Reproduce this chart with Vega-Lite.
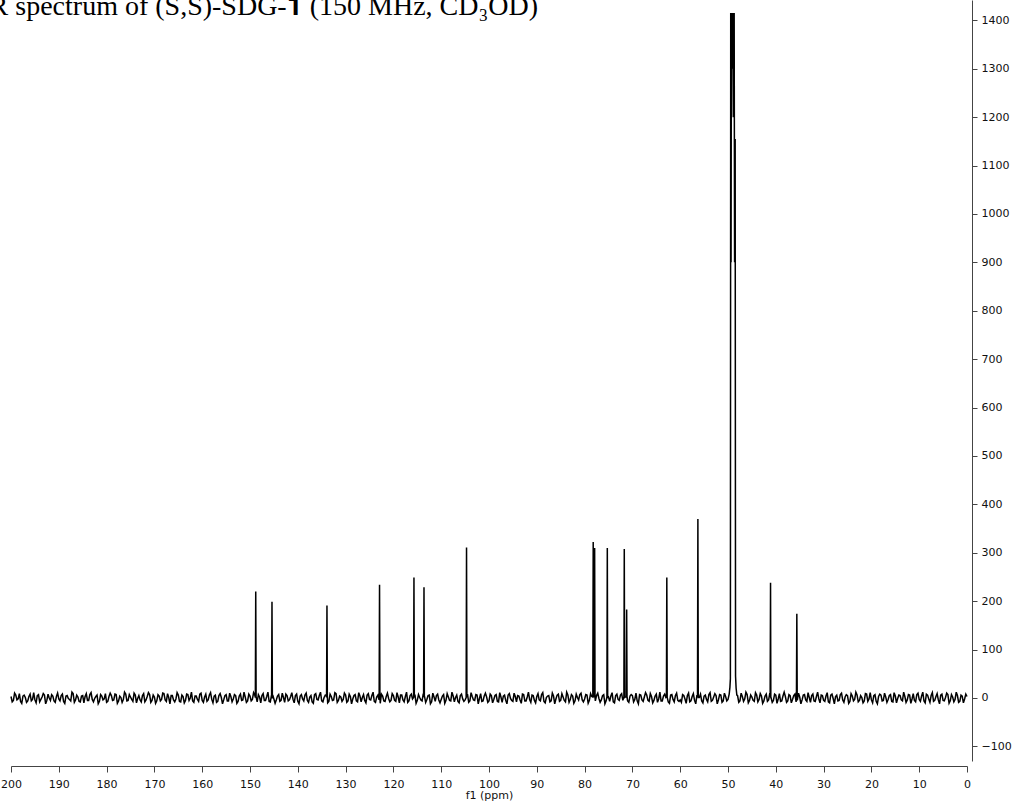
{
  "$schema": "https://vega.github.io/schema/vega-lite/v6.json",
  "width": 956,
  "height": 761,
  "autosize": {"type": "none"},
  "padding": {"left": 11, "top": 0, "right": 47, "bottom": 49},
  "background": "white",
  "datasets": {
    "spectrum": [
      {"ppm": 200, "v": 3}, {"ppm": 199.75, "v": -8}, {"ppm": 199.5, "v": -5}, {"ppm": 199.25, "v": 10}, {"ppm": 199, "v": 6}, {"ppm": 198.75, "v": -4}, {"ppm": 198.5, "v": -2}, {"ppm": 198.25, "v": 9},
      {"ppm": 198, "v": -7}, {"ppm": 197.75, "v": -11}, {"ppm": 197.5, "v": 4}, {"ppm": 197.25, "v": 6}, {"ppm": 197, "v": 1}, {"ppm": 196.75, "v": -9}, {"ppm": 196.5, "v": -6}, {"ppm": 196.25, "v": 3},
      {"ppm": 196, "v": 8}, {"ppm": 195.75, "v": -6}, {"ppm": 195.5, "v": -3}, {"ppm": 195.25, "v": 11}, {"ppm": 195, "v": -4}, {"ppm": 194.75, "v": -10}, {"ppm": 194.5, "v": 5}, {"ppm": 194.25, "v": 7},
      {"ppm": 194, "v": -8}, {"ppm": 193.75, "v": -3}, {"ppm": 193.5, "v": 2}, {"ppm": 193.25, "v": 9}, {"ppm": 193, "v": 6}, {"ppm": 192.75, "v": -12}, {"ppm": 192.5, "v": -5}, {"ppm": 192.25, "v": 8},
      {"ppm": 192, "v": 0}, {"ppm": 191.75, "v": -5}, {"ppm": 191.5, "v": 7}, {"ppm": 191.25, "v": 4}, {"ppm": 191, "v": -6}, {"ppm": 190.75, "v": -9}, {"ppm": 190.5, "v": 3}, {"ppm": 190.25, "v": 10},
      {"ppm": 190, "v": -2}, {"ppm": 189.75, "v": -6}, {"ppm": 189.5, "v": 5}, {"ppm": 189.25, "v": 8}, {"ppm": 189, "v": -7}, {"ppm": 188.75, "v": -11}, {"ppm": 188.5, "v": 4}, {"ppm": 188.25, "v": 5},
      {"ppm": 188, "v": -1}, {"ppm": 187.75, "v": -3}, {"ppm": 187.5, "v": -6}, {"ppm": 187.25, "v": 12}, {"ppm": 187, "v": 9}, {"ppm": 186.75, "v": -9}, {"ppm": 186.5, "v": -4}, {"ppm": 186.25, "v": 6},
      {"ppm": 186, "v": 2}, {"ppm": 185.75, "v": -7}, {"ppm": 185.5, "v": -8}, {"ppm": 185.25, "v": 4}, {"ppm": 185, "v": 5}, {"ppm": 184.75, "v": -10}, {"ppm": 184.5, "v": 3}, {"ppm": 184.25, "v": 9},
      {"ppm": 184, "v": -5}, {"ppm": 183.75, "v": -5}, {"ppm": 183.5, "v": 7}, {"ppm": 183.25, "v": 11}, {"ppm": 183, "v": -3}, {"ppm": 182.75, "v": -8}, {"ppm": 182.5, "v": -1}, {"ppm": 182.25, "v": 3},
      {"ppm": 182, "v": 6}, {"ppm": 181.75, "v": -12}, {"ppm": 181.5, "v": -7}, {"ppm": 181.25, "v": 7}, {"ppm": 181, "v": 4}, {"ppm": 180.75, "v": -4}, {"ppm": 180.5, "v": -2}, {"ppm": 180.25, "v": 9},
      {"ppm": 180, "v": -9}, {"ppm": 179.75, "v": -7}, {"ppm": 179.5, "v": 3}, {"ppm": 179.25, "v": 10}, {"ppm": 179, "v": 5}, {"ppm": 178.75, "v": -5}, {"ppm": 178.5, "v": -4}, {"ppm": 178.25, "v": 8},
      {"ppm": 178, "v": 7}, {"ppm": 177.75, "v": -11}, {"ppm": 177.5, "v": -6}, {"ppm": 177.25, "v": 4}, {"ppm": 177, "v": 1}, {"ppm": 176.75, "v": -9}, {"ppm": 176.5, "v": -3}, {"ppm": 176.25, "v": 12},
      {"ppm": 176, "v": 8}, {"ppm": 175.75, "v": -6}, {"ppm": 175.5, "v": -5}, {"ppm": 175.25, "v": 7}, {"ppm": 175, "v": 2}, {"ppm": 174.75, "v": -3}, {"ppm": 174.5, "v": -7}, {"ppm": 174.25, "v": 10},
      {"ppm": 174, "v": 6}, {"ppm": 173.75, "v": -10}, {"ppm": 173.5, "v": -1}, {"ppm": 173.25, "v": 5}, {"ppm": 173, "v": -4}, {"ppm": 172.75, "v": -8}, {"ppm": 172.5, "v": 5}, {"ppm": 172.25, "v": 9},
      {"ppm": 172, "v": -8}, {"ppm": 171.75, "v": -4}, {"ppm": 171.5, "v": 3}, {"ppm": 171.25, "v": 11}, {"ppm": 171, "v": 7}, {"ppm": 170.75, "v": -9}, {"ppm": 170.5, "v": -5}, {"ppm": 170.25, "v": 6},
      {"ppm": 170, "v": 2}, {"ppm": 169.75, "v": -11}, {"ppm": 169.5, "v": -6}, {"ppm": 169.25, "v": 7}, {"ppm": 169, "v": 4}, {"ppm": 168.75, "v": -6}, {"ppm": 168.5, "v": -3}, {"ppm": 168.25, "v": 10},
      {"ppm": 168, "v": 9}, {"ppm": 167.75, "v": -4}, {"ppm": 167.5, "v": -7}, {"ppm": 167.25, "v": 9}, {"ppm": 167, "v": 1}, {"ppm": 166.75, "v": -12}, {"ppm": 166.5, "v": 5}, {"ppm": 166.25, "v": 5},
      {"ppm": 166, "v": -4}, {"ppm": 165.75, "v": -8}, {"ppm": 165.5, "v": -2}, {"ppm": 165.25, "v": 11}, {"ppm": 165, "v": 6}, {"ppm": 164.75, "v": -7}, {"ppm": 164.5, "v": -8}, {"ppm": 164.25, "v": 6},
      {"ppm": 164, "v": 3}, {"ppm": 163.75, "v": -10}, {"ppm": 163.5, "v": -5}, {"ppm": 163.25, "v": 8}, {"ppm": 163, "v": 7}, {"ppm": 162.75, "v": -5}, {"ppm": 162.5, "v": 0}, {"ppm": 162.25, "v": 12},
      {"ppm": 162, "v": -6}, {"ppm": 161.75, "v": -9}, {"ppm": 161.5, "v": 4}, {"ppm": 161.25, "v": 4}, {"ppm": 161, "v": -3}, {"ppm": 160.75, "v": -7}, {"ppm": 160.5, "v": 8}, {"ppm": 160.25, "v": 10},
      {"ppm": 160, "v": -5}, {"ppm": 159.75, "v": -9}, {"ppm": 159.5, "v": 2}, {"ppm": 159.25, "v": 8}, {"ppm": 159, "v": -7}, {"ppm": 158.75, "v": -4}, {"ppm": 158.5, "v": 6}, {"ppm": 158.25, "v": 11},
      {"ppm": 158, "v": -3}, {"ppm": 157.75, "v": -10}, {"ppm": 157.5, "v": 4}, {"ppm": 157.25, "v": 6}, {"ppm": 157, "v": -9}, {"ppm": 156.75, "v": -7}, {"ppm": 156.5, "v": 5}, {"ppm": 156.25, "v": 9},
      {"ppm": 156, "v": 1}, {"ppm": 155.75, "v": -12}, {"ppm": 155.5, "v": -4}, {"ppm": 155.25, "v": 5}, {"ppm": 155, "v": 7}, {"ppm": 154.75, "v": -6}, {"ppm": 154.5, "v": -6}, {"ppm": 154.25, "v": 10},
      {"ppm": 154, "v": 3}, {"ppm": 153.75, "v": -8}, {"ppm": 153.5, "v": -2}, {"ppm": 153.25, "v": 7}, {"ppm": 153, "v": 5}, {"ppm": 152.75, "v": -11}, {"ppm": 152.5, "v": -7}, {"ppm": 152.25, "v": 4},
      {"ppm": 152, "v": 8}, {"ppm": 151.75, "v": -5}, {"ppm": 151.5, "v": -4}, {"ppm": 151.25, "v": 12}, {"ppm": 151, "v": 2}, {"ppm": 150.75, "v": -9}, {"ppm": 150.5, "v": -6}, {"ppm": 150.25, "v": 8},
      {"ppm": 150, "v": 4}, {"ppm": 149.75, "v": -6}, {"ppm": 149.5, "v": -3}, {"ppm": 149.25, "v": 11}, {"ppm": 149, "v": 6},
      {"ppm": 148.88, "v": 1}, {"ppm": 148.8, "v": 220}, {"ppm": 148.72, "v": 2},
      {"ppm": 148.5, "v": -8}, {"ppm": 148.25, "v": 7}, {"ppm": 148, "v": 2}, {"ppm": 147.75, "v": -10}, {"ppm": 147.5, "v": 5}, {"ppm": 147.25, "v": 9}, {"ppm": 147, "v": -5}, {"ppm": 146.75, "v": -5},
      {"ppm": 146.5, "v": 3}, {"ppm": 146.25, "v": 12}, {"ppm": 146, "v": -7}, {"ppm": 145.75, "v": -8}, {"ppm": 145.5, "v": 6},
      {"ppm": 145.48, "v": 2}, {"ppm": 145.4, "v": 199}, {"ppm": 145.32, "v": -1},
      {"ppm": 145.25, "v": 6}, {"ppm": 145, "v": -2}, {"ppm": 144.75, "v": -11}, {"ppm": 144.5, "v": -4}, {"ppm": 144.25, "v": 4}, {"ppm": 144, "v": 7}, {"ppm": 143.75, "v": -7}, {"ppm": 143.5, "v": -5},
      {"ppm": 143.25, "v": 10}, {"ppm": 143, "v": 1}, {"ppm": 142.75, "v": -9}, {"ppm": 142.5, "v": 8}, {"ppm": 142.25, "v": 5}, {"ppm": 142, "v": -6}, {"ppm": 141.75, "v": -4}, {"ppm": 141.5, "v": 3},
      {"ppm": 141.25, "v": 11}, {"ppm": 141, "v": -3}, {"ppm": 140.75, "v": -10}, {"ppm": 140.5, "v": 5}, {"ppm": 140.25, "v": 8}, {"ppm": 140, "v": -7}, {"ppm": 139.75, "v": -12}, {"ppm": 139.5, "v": 4},
      {"ppm": 139.25, "v": 7}, {"ppm": 139, "v": -2}, {"ppm": 138.75, "v": -6}, {"ppm": 138.5, "v": 6}, {"ppm": 138.25, "v": 10}, {"ppm": 138, "v": -5}, {"ppm": 137.75, "v": -9}, {"ppm": 137.5, "v": 2},
      {"ppm": 137.25, "v": 5}, {"ppm": 137, "v": -8}, {"ppm": 136.75, "v": -11}, {"ppm": 136.5, "v": 7}, {"ppm": 136.25, "v": 9}, {"ppm": 136, "v": -3}, {"ppm": 135.75, "v": -4}, {"ppm": 135.5, "v": 5},
      {"ppm": 135.25, "v": 12}, {"ppm": 135, "v": -6}, {"ppm": 134.75, "v": -8}, {"ppm": 134.5, "v": 1}, {"ppm": 134.25, "v": 6}, {"ppm": 134, "v": 4},
      {"ppm": 133.98, "v": 1}, {"ppm": 133.9, "v": 191}, {"ppm": 133.82, "v": 2},
      {"ppm": 133.75, "v": -10}, {"ppm": 133.5, "v": -7}, {"ppm": 133.25, "v": 8}, {"ppm": 133, "v": 3}, {"ppm": 132.75, "v": -5}, {"ppm": 132.5, "v": -4}, {"ppm": 132.25, "v": 11}, {"ppm": 132, "v": 9},
      {"ppm": 131.75, "v": -9}, {"ppm": 131.5, "v": -5}, {"ppm": 131.25, "v": 4}, {"ppm": 131, "v": 2}, {"ppm": 130.75, "v": -7}, {"ppm": 130.5, "v": -3}, {"ppm": 130.25, "v": 10}, {"ppm": 130, "v": 6},
      {"ppm": 129.75, "v": -9}, {"ppm": 129.5, "v": -6}, {"ppm": 129.25, "v": 8}, {"ppm": 129, "v": 3}, {"ppm": 128.75, "v": -12}, {"ppm": 128.5, "v": -2}, {"ppm": 128.25, "v": 5}, {"ppm": 128, "v": 7},
      {"ppm": 127.75, "v": -6}, {"ppm": 127.5, "v": -8}, {"ppm": 127.25, "v": 11}, {"ppm": 127, "v": 4}, {"ppm": 126.75, "v": -8}, {"ppm": 126.5, "v": 1}, {"ppm": 126.25, "v": 7}, {"ppm": 126, "v": -5},
      {"ppm": 125.75, "v": -10}, {"ppm": 125.5, "v": 6}, {"ppm": 125.25, "v": 9}, {"ppm": 125, "v": -3}, {"ppm": 124.75, "v": -4}, {"ppm": 124.5, "v": 5}, {"ppm": 124.25, "v": 12}, {"ppm": 124, "v": -7},
      {"ppm": 123.75, "v": -9}, {"ppm": 123.5, "v": 2}, {"ppm": 123.25, "v": 6}, {"ppm": 123, "v": -4},
      {"ppm": 122.98, "v": 2}, {"ppm": 122.9, "v": 234}, {"ppm": 122.82, "v": 0},
      {"ppm": 122.75, "v": -11}, {"ppm": 122.5, "v": 8}, {"ppm": 122.25, "v": 4}, {"ppm": 122, "v": -6}, {"ppm": 121.75, "v": -7}, {"ppm": 121.5, "v": 3}, {"ppm": 121.25, "v": 10}, {"ppm": 121, "v": -1},
      {"ppm": 120.75, "v": -8}, {"ppm": 120.5, "v": -5}, {"ppm": 120.25, "v": 9}, {"ppm": 120, "v": 5}, {"ppm": 119.75, "v": -5}, {"ppm": 119.5, "v": -7}, {"ppm": 119.25, "v": 11}, {"ppm": 119, "v": 2},
      {"ppm": 118.75, "v": -10}, {"ppm": 118.5, "v": 6}, {"ppm": 118.25, "v": 6}, {"ppm": 118, "v": -4}, {"ppm": 117.75, "v": -8}, {"ppm": 117.5, "v": 3}, {"ppm": 117.25, "v": 12}, {"ppm": 117, "v": -9},
      {"ppm": 116.75, "v": -6}, {"ppm": 116.5, "v": 5}, {"ppm": 116.25, "v": 8}, {"ppm": 116, "v": -2},
      {"ppm": 115.78, "v": 1}, {"ppm": 115.7, "v": 249}, {"ppm": 115.62, "v": 2},
      {"ppm": 115.5, "v": 7}, {"ppm": 115.25, "v": -11}, {"ppm": 115, "v": -5}, {"ppm": 114.75, "v": 7}, {"ppm": 114.5, "v": 1}, {"ppm": 114.25, "v": -4}, {"ppm": 114, "v": -6}, {"ppm": 113.75, "v": 9},
      {"ppm": 113.68, "v": 2}, {"ppm": 113.6, "v": 229}, {"ppm": 113.52, "v": 1},
      {"ppm": 113.5, "v": 4}, {"ppm": 113.25, "v": -9}, {"ppm": 113, "v": -3}, {"ppm": 112.75, "v": 5}, {"ppm": 112.5, "v": 6}, {"ppm": 112.25, "v": -12}, {"ppm": 112, "v": -8}, {"ppm": 111.75, "v": 10},
      {"ppm": 111.5, "v": 2}, {"ppm": 111.25, "v": -7}, {"ppm": 111, "v": 5}, {"ppm": 110.75, "v": 8}, {"ppm": 110.5, "v": -4}, {"ppm": 110.25, "v": -10}, {"ppm": 110, "v": -3}, {"ppm": 109.75, "v": 4},
      {"ppm": 109.5, "v": 7}, {"ppm": 109.25, "v": -11}, {"ppm": 109, "v": -5}, {"ppm": 108.75, "v": 9}, {"ppm": 108.5, "v": 2}, {"ppm": 108.25, "v": -5}, {"ppm": 108, "v": -6}, {"ppm": 107.75, "v": 12},
      {"ppm": 107.5, "v": 4}, {"ppm": 107.25, "v": -8}, {"ppm": 107, "v": 1}, {"ppm": 106.75, "v": 6}, {"ppm": 106.5, "v": -7}, {"ppm": 106.25, "v": -10}, {"ppm": 106, "v": 5}, {"ppm": 105.75, "v": 8},
      {"ppm": 105.5, "v": -2}, {"ppm": 105.25, "v": -7}, {"ppm": 105, "v": -4},
      {"ppm": 104.78, "v": 1}, {"ppm": 104.7, "v": 311}, {"ppm": 104.62, "v": 2},
      {"ppm": 104.5, "v": 8}, {"ppm": 104.25, "v": -9}, {"ppm": 104, "v": -6}, {"ppm": 103.75, "v": 11}, {"ppm": 103.5, "v": 3}, {"ppm": 103.25, "v": -4}, {"ppm": 103, "v": -5}, {"ppm": 102.75, "v": 7},
      {"ppm": 102.5, "v": 6}, {"ppm": 102.25, "v": -12}, {"ppm": 102, "v": -1}, {"ppm": 101.75, "v": 9}, {"ppm": 101.5, "v": -7}, {"ppm": 101.25, "v": -6}, {"ppm": 101, "v": 4}, {"ppm": 100.75, "v": 10},
      {"ppm": 100.5, "v": 2}, {"ppm": 100.25, "v": -9}, {"ppm": 100, "v": -6}, {"ppm": 99.75, "v": 8}, {"ppm": 99.5, "v": 5}, {"ppm": 99.25, "v": -10}, {"ppm": 99, "v": -3}, {"ppm": 98.75, "v": 5},
      {"ppm": 98.5, "v": 7}, {"ppm": 98.25, "v": -7}, {"ppm": 98, "v": -8}, {"ppm": 97.75, "v": 11}, {"ppm": 97.5, "v": 2}, {"ppm": 97.25, "v": -9}, {"ppm": 97, "v": 4}, {"ppm": 96.75, "v": 6},
      {"ppm": 96.5, "v": -5}, {"ppm": 96.25, "v": -12}, {"ppm": 96, "v": 6}, {"ppm": 95.75, "v": 9}, {"ppm": 95.5, "v": -1}, {"ppm": 95.25, "v": -5}, {"ppm": 95, "v": -7}, {"ppm": 94.75, "v": 10},
      {"ppm": 94.5, "v": 3}, {"ppm": 94.25, "v": -8}, {"ppm": 94, "v": 5}, {"ppm": 93.75, "v": 4}, {"ppm": 93.5, "v": -4}, {"ppm": 93.25, "v": -11}, {"ppm": 93, "v": 8}, {"ppm": 92.75, "v": 7},
      {"ppm": 92.5, "v": -6}, {"ppm": 92.25, "v": -6}, {"ppm": 92, "v": 2}, {"ppm": 91.75, "v": 12}, {"ppm": 91.5, "v": -3}, {"ppm": 91.25, "v": -9}, {"ppm": 91, "v": 6}, {"ppm": 90.75, "v": 5},
      {"ppm": 90.5, "v": -5}, {"ppm": 90.25, "v": -10}, {"ppm": 90, "v": 3}, {"ppm": 89.75, "v": 9}, {"ppm": 89.5, "v": -4}, {"ppm": 89.25, "v": -6}, {"ppm": 89, "v": 7}, {"ppm": 88.75, "v": 11},
      {"ppm": 88.5, "v": -7}, {"ppm": 88.25, "v": -10}, {"ppm": 88, "v": 1}, {"ppm": 87.75, "v": 4}, {"ppm": 87.5, "v": 5}, {"ppm": 87.25, "v": -8}, {"ppm": 87, "v": -6}, {"ppm": 86.75, "v": 10},
      {"ppm": 86.5, "v": 4}, {"ppm": 86.25, "v": -12}, {"ppm": 86, "v": -2}, {"ppm": 85.75, "v": 6}, {"ppm": 85.5, "v": 8}, {"ppm": 85.25, "v": -7}, {"ppm": 85, "v": -5}, {"ppm": 84.75, "v": 9},
      {"ppm": 84.5, "v": 2}, {"ppm": 84.25, "v": -5}, {"ppm": 84, "v": -8}, {"ppm": 83.75, "v": 12}, {"ppm": 83.5, "v": 6}, {"ppm": 83.25, "v": -9}, {"ppm": 83, "v": -3}, {"ppm": 82.75, "v": 7},
      {"ppm": 82.5, "v": 4}, {"ppm": 82.25, "v": -11}, {"ppm": 82, "v": -6}, {"ppm": 81.75, "v": 8}, {"ppm": 81.5, "v": 1}, {"ppm": 81.25, "v": -4}, {"ppm": 81, "v": 7}, {"ppm": 80.75, "v": 10},
      {"ppm": 80.5, "v": -4}, {"ppm": 80.25, "v": -8}, {"ppm": 80, "v": -2}, {"ppm": 79.75, "v": 7}, {"ppm": 79.5, "v": 6}, {"ppm": 79.25, "v": -11}, {"ppm": 79, "v": -5}, {"ppm": 78.75, "v": 9},
      {"ppm": 78.5, "v": 3},
      {"ppm": 78.28, "v": 2}, {"ppm": 78.2, "v": 322}, {"ppm": 78.1, "v": 4}, {"ppm": 78, "v": 3}, {"ppm": 77.9, "v": 310}, {"ppm": 77.82, "v": 1},
      {"ppm": 77.75, "v": -6}, {"ppm": 77.5, "v": 5}, {"ppm": 77.25, "v": 10}, {"ppm": 77, "v": -1}, {"ppm": 76.75, "v": -9}, {"ppm": 76.5, "v": -4}, {"ppm": 76.25, "v": 5}, {"ppm": 76, "v": 7},
      {"ppm": 75.75, "v": -12}, {"ppm": 75.5, "v": -6},
      {"ppm": 75.33, "v": 2}, {"ppm": 75.25, "v": 310}, {"ppm": 75.17, "v": 1},
      {"ppm": 75, "v": 2}, {"ppm": 74.75, "v": -7}, {"ppm": 74.5, "v": 4}, {"ppm": 74.25, "v": 11}, {"ppm": 74, "v": -8}, {"ppm": 73.75, "v": -10}, {"ppm": 73.5, "v": 5}, {"ppm": 73.25, "v": 8},
      {"ppm": 73, "v": -3}, {"ppm": 72.75, "v": -5}, {"ppm": 72.5, "v": 6}, {"ppm": 72.25, "v": 9}, {"ppm": 72, "v": -5},
      {"ppm": 71.78, "v": 2}, {"ppm": 71.7, "v": 308}, {"ppm": 71.62, "v": 1}, {"ppm": 71.5, "v": 2}, {"ppm": 71.28, "v": 2}, {"ppm": 71.2, "v": 183}, {"ppm": 71.12, "v": 1},
      {"ppm": 71, "v": -6}, {"ppm": 70.75, "v": -9}, {"ppm": 70.5, "v": 4}, {"ppm": 70.25, "v": 7}, {"ppm": 70, "v": 5}, {"ppm": 69.75, "v": -8}, {"ppm": 69.5, "v": -3}, {"ppm": 69.25, "v": 10},
      {"ppm": 69, "v": -6}, {"ppm": 68.75, "v": -12}, {"ppm": 68.5, "v": 7}, {"ppm": 68.25, "v": 6}, {"ppm": 68, "v": -4}, {"ppm": 67.75, "v": -7}, {"ppm": 67.5, "v": 2}, {"ppm": 67.25, "v": 11},
      {"ppm": 67, "v": 6}, {"ppm": 66.75, "v": -5}, {"ppm": 66.5, "v": -7}, {"ppm": 66.25, "v": 9}, {"ppm": 66, "v": 3}, {"ppm": 65.75, "v": -10}, {"ppm": 65.5, "v": -5}, {"ppm": 65.25, "v": 4},
      {"ppm": 65, "v": 8}, {"ppm": 64.75, "v": -9}, {"ppm": 64.5, "v": -2}, {"ppm": 64.25, "v": 12}, {"ppm": 64, "v": -6}, {"ppm": 63.75, "v": -6}, {"ppm": 63.5, "v": 4}, {"ppm": 63.25, "v": 8},
      {"ppm": 63, "v": 1},
      {"ppm": 62.88, "v": 2}, {"ppm": 62.8, "v": 249}, {"ppm": 62.72, "v": 1},
      {"ppm": 62.5, "v": -8}, {"ppm": 62.25, "v": -11}, {"ppm": 62, "v": 6}, {"ppm": 61.75, "v": 7}, {"ppm": 61.5, "v": -3}, {"ppm": 61.25, "v": -8}, {"ppm": 61, "v": 5}, {"ppm": 60.75, "v": 10},
      {"ppm": 60.5, "v": -5}, {"ppm": 60.25, "v": -7}, {"ppm": 60, "v": -4}, {"ppm": 59.75, "v": -9}, {"ppm": 59.5, "v": 7}, {"ppm": 59.25, "v": 5}, {"ppm": 59, "v": -2}, {"ppm": 58.75, "v": -11},
      {"ppm": 58.5, "v": 5}, {"ppm": 58.25, "v": 10}, {"ppm": 58, "v": -8}, {"ppm": 57.75, "v": -6}, {"ppm": 57.5, "v": 3}, {"ppm": 57.25, "v": 9}, {"ppm": 57, "v": -5}, {"ppm": 56.75, "v": -12},
      {"ppm": 56.5, "v": 6},
      {"ppm": 56.38, "v": 2}, {"ppm": 56.3, "v": 370}, {"ppm": 56.22, "v": 1},
      {"ppm": 56, "v": 1}, {"ppm": 55.75, "v": 8}, {"ppm": 55.5, "v": -6}, {"ppm": 55.25, "v": -10}, {"ppm": 55, "v": 4}, {"ppm": 54.75, "v": 6}, {"ppm": 54.5, "v": -3}, {"ppm": 54.25, "v": -8},
      {"ppm": 54, "v": 7}, {"ppm": 53.75, "v": 11}, {"ppm": 53.5, "v": -7}, {"ppm": 53.25, "v": -5}, {"ppm": 53, "v": 2}, {"ppm": 52.75, "v": 9}, {"ppm": 52.5, "v": 5}, {"ppm": 52.25, "v": -12},
      {"ppm": 52, "v": -4}, {"ppm": 51.75, "v": 7}, {"ppm": 51.5, "v": 6}, {"ppm": 51.25, "v": -9}, {"ppm": 51, "v": -6}, {"ppm": 50.75, "v": 10}, {"ppm": 50.5, "v": 3}, {"ppm": 50.25, "v": -6},
      {"ppm": 50, "v": -3},
      {"ppm": 49.75, "v": 8}, {"ppm": 49.6, "v": 22}, {"ppm": 49.5, "v": 40}, {"ppm": 49.43, "v": 1415}, {"ppm": 49.36, "v": 900}, {"ppm": 49.29, "v": 1415}, {"ppm": 49.22, "v": 1200},
      {"ppm": 49.14, "v": 1415}, {"ppm": 49.07, "v": 1300}, {"ppm": 49.0, "v": 1415}, {"ppm": 48.93, "v": 1300}, {"ppm": 48.86, "v": 1415}, {"ppm": 48.79, "v": 1200}, {"ppm": 48.71, "v": 1415},
      {"ppm": 48.62, "v": 900}, {"ppm": 48.5, "v": 1155}, {"ppm": 48.42, "v": 45}, {"ppm": 48.3, "v": 20}, {"ppm": 48.15, "v": 6},
      {"ppm": 48, "v": 5}, {"ppm": 47.75, "v": -9}, {"ppm": 47.5, "v": -6}, {"ppm": 47.25, "v": 10}, {"ppm": 47, "v": 3}, {"ppm": 46.75, "v": -7}, {"ppm": 46.5, "v": -2}, {"ppm": 46.25, "v": 12},
      {"ppm": 46, "v": 7}, {"ppm": 45.75, "v": -10}, {"ppm": 45.5, "v": -5}, {"ppm": 45.25, "v": 6}, {"ppm": 45, "v": 2}, {"ppm": 44.75, "v": -5}, {"ppm": 44.5, "v": -7}, {"ppm": 44.25, "v": 11},
      {"ppm": 44, "v": 6}, {"ppm": 43.75, "v": -8}, {"ppm": 43.5, "v": -3}, {"ppm": 43.25, "v": 9}, {"ppm": 43, "v": 4}, {"ppm": 42.75, "v": -11}, {"ppm": 42.5, "v": -6}, {"ppm": 42.25, "v": 4},
      {"ppm": 42, "v": 8}, {"ppm": 41.75, "v": -7}, {"ppm": 41.5, "v": -4}, {"ppm": 41.25, "v": 10},
      {"ppm": 41.18, "v": 2}, {"ppm": 41.1, "v": 238}, {"ppm": 41.04, "v": 1},
      {"ppm": 41, "v": 1}, {"ppm": 40.75, "v": -9}, {"ppm": 40.5, "v": -5}, {"ppm": 40.25, "v": 8}, {"ppm": 40, "v": 6}, {"ppm": 39.75, "v": -11}, {"ppm": 39.5, "v": -2}, {"ppm": 39.25, "v": 9},
      {"ppm": 39, "v": -7}, {"ppm": 38.75, "v": -6}, {"ppm": 38.5, "v": 4}, {"ppm": 38.25, "v": 12}, {"ppm": 38, "v": 3}, {"ppm": 37.75, "v": -9}, {"ppm": 37.5, "v": -6}, {"ppm": 37.25, "v": 7},
      {"ppm": 37, "v": 5}, {"ppm": 36.75, "v": -10}, {"ppm": 36.5, "v": -3}, {"ppm": 36.25, "v": 5}, {"ppm": 36, "v": 8}, {"ppm": 35.75, "v": -8},
      {"ppm": 35.68, "v": 2}, {"ppm": 35.6, "v": 174}, {"ppm": 35.52, "v": 1},
      {"ppm": 35.5, "v": -5}, {"ppm": 35.25, "v": 10}, {"ppm": 35, "v": 2}, {"ppm": 34.75, "v": -12}, {"ppm": 34.5, "v": -4}, {"ppm": 34.25, "v": 6}, {"ppm": 34, "v": 7}, {"ppm": 33.75, "v": -4},
      {"ppm": 33.5, "v": -7}, {"ppm": 33.25, "v": 11}, {"ppm": 33, "v": 1}, {"ppm": 32.75, "v": -9}, {"ppm": 32.5, "v": 5}, {"ppm": 32.25, "v": 8}, {"ppm": 32, "v": -6}, {"ppm": 31.75, "v": -7},
      {"ppm": 31.5, "v": 3}, {"ppm": 31.25, "v": 12}, {"ppm": 31, "v": -2}, {"ppm": 30.75, "v": -10}, {"ppm": 30.5, "v": 6}, {"ppm": 30.25, "v": 5}, {"ppm": 30, "v": -5}, {"ppm": 29.75, "v": -7},
      {"ppm": 29.5, "v": 4}, {"ppm": 29.25, "v": 11}, {"ppm": 29, "v": -8}, {"ppm": 28.75, "v": -10}, {"ppm": 28.5, "v": 6}, {"ppm": 28.25, "v": 8}, {"ppm": 28, "v": -1}, {"ppm": 27.75, "v": -12},
      {"ppm": 27.5, "v": 3}, {"ppm": 27.25, "v": 6}, {"ppm": 27, "v": -6}, {"ppm": 26.75, "v": -5}, {"ppm": 26.5, "v": 7}, {"ppm": 26.25, "v": 10}, {"ppm": 26, "v": -4}, {"ppm": 25.75, "v": -9},
      {"ppm": 25.5, "v": 2}, {"ppm": 25.25, "v": 7}, {"ppm": 25, "v": 5}, {"ppm": 24.75, "v": -11}, {"ppm": 24.5, "v": -7}, {"ppm": 24.25, "v": 9}, {"ppm": 24, "v": 4}, {"ppm": 23.75, "v": -6},
      {"ppm": 23.5, "v": -3}, {"ppm": 23.25, "v": 12}, {"ppm": 23, "v": 6}, {"ppm": 22.75, "v": -8}, {"ppm": 22.5, "v": -5}, {"ppm": 22.25, "v": 5}, {"ppm": 22, "v": 1}, {"ppm": 21.75, "v": -10},
      {"ppm": 21.5, "v": -6}, {"ppm": 21.25, "v": 9}, {"ppm": 21, "v": 8}, {"ppm": 20.75, "v": -7}, {"ppm": 20.5, "v": -2}, {"ppm": 20.25, "v": 11}, {"ppm": 20, "v": -4}, {"ppm": 19.75, "v": -10},
      {"ppm": 19.5, "v": 5}, {"ppm": 19.25, "v": 7}, {"ppm": 19, "v": -7}, {"ppm": 18.75, "v": -12}, {"ppm": 18.5, "v": 3}, {"ppm": 18.25, "v": 8}, {"ppm": 18, "v": 6}, {"ppm": 17.75, "v": -6},
      {"ppm": 17.5, "v": -5}, {"ppm": 17.25, "v": 10}, {"ppm": 17, "v": 2}, {"ppm": 16.75, "v": -9}, {"ppm": 16.5, "v": -3}, {"ppm": 16.25, "v": 5}, {"ppm": 16, "v": 7}, {"ppm": 15.75, "v": -7},
      {"ppm": 15.5, "v": -8}, {"ppm": 15.25, "v": 11}, {"ppm": 15, "v": 4}, {"ppm": 14.75, "v": -10}, {"ppm": 14.5, "v": -1}, {"ppm": 14.25, "v": 6}, {"ppm": 14, "v": 5}, {"ppm": 13.75, "v": -4},
      {"ppm": 13.5, "v": -6}, {"ppm": 13.25, "v": 12}, {"ppm": 13, "v": 3}, {"ppm": 12.75, "v": -9}, {"ppm": 12.5, "v": -4}, {"ppm": 12.25, "v": 7}, {"ppm": 12, "v": 6}, {"ppm": 11.75, "v": -11},
      {"ppm": 11.5, "v": -2}, {"ppm": 11.25, "v": 9}, {"ppm": 11, "v": -5}, {"ppm": 10.75, "v": -8}, {"ppm": 10.5, "v": 7}, {"ppm": 10.25, "v": 10}, {"ppm": 10, "v": -3}, {"ppm": 9.75, "v": -7},
      {"ppm": 9.5, "v": 4}, {"ppm": 9.25, "v": 12}, {"ppm": 9, "v": -6}, {"ppm": 8.75, "v": -10}, {"ppm": 8.5, "v": 8}, {"ppm": 8.25, "v": 6}, {"ppm": 8, "v": -2}, {"ppm": 7.75, "v": -9},
      {"ppm": 7.5, "v": 5}, {"ppm": 7.25, "v": 11}, {"ppm": 7, "v": -7}, {"ppm": 6.75, "v": -5}, {"ppm": 6.5, "v": 3}, {"ppm": 6.25, "v": 9}, {"ppm": 6, "v": -4}, {"ppm": 5.75, "v": -12},
      {"ppm": 5.5, "v": 6}, {"ppm": 5.25, "v": 8}, {"ppm": 5, "v": -5}, {"ppm": 4.75, "v": -6}, {"ppm": 4.5, "v": 1}, {"ppm": 4.25, "v": 10}, {"ppm": 4, "v": 7}, {"ppm": 3.75, "v": -11},
      {"ppm": 3.5, "v": -6}, {"ppm": 3.25, "v": 7}, {"ppm": 3, "v": 2}, {"ppm": 2.75, "v": -8}, {"ppm": 2.5, "v": -3}, {"ppm": 2.25, "v": 12}, {"ppm": 2, "v": 5}, {"ppm": 1.75, "v": -9},
      {"ppm": 1.5, "v": -7}, {"ppm": 1.25, "v": 6}, {"ppm": 1, "v": 4}, {"ppm": 0.75, "v": -10}, {"ppm": 0.5, "v": -2}, {"ppm": 0.25, "v": 8}, {"ppm": 0, "v": 3}
    ],
    "heading": [
      {"caption": "¹³C NMR spectrum of (S,S)-SDG-𝟏 (150 MHz, CD₃OD)"}
    ]
  },
  "layer": [
    {
      "data": {"name": "spectrum"},
      "mark": {"type": "line", "color": "#000000", "strokeWidth": 1.5, "interpolate": "linear"},
      "encoding": {
        "x": {
          "field": "ppm",
          "type": "quantitative",
          "scale": {"domain": [0, 200], "reverse": true, "nice": false, "zero": false},
          "axis": {
            "values": [0, 5, 10, 15, 20, 25, 30, 35, 40, 45, 50, 55, 60, 65, 70, 75, 80, 85, 90, 95, 100, 105, 110, 115, 120, 125, 130, 135, 140, 145, 150, 155, 160, 165, 170, 175, 180, 185, 190, 195, 200],
            "format": "d",
            "labelExpr": "datum.value % 10 === 0 ? datum.label : ''",
            "tickSize": {"condition": {"test": "datum.value % 10 === 0", "value": 6}, "value": 3},
            "grid": false,
            "offset": 5,
            "domainColor": "#444444",
            "tickColor": "#444444",
            "labelColor": "#111111",
            "labelFont": "DejaVu Sans",
            "labelFontSize": 11,
            "labelPadding": 6,
            "labelFlush": false,
            "labelOverlap": false,
            "title": "f1 (ppm)",
            "titleFont": "DejaVu Sans",
            "titleFontSize": 11,
            "titleFontWeight": "normal",
            "titleColor": "#111111",
            "titlePadding": 0
          }
        },
        "y": {
          "field": "v",
          "type": "quantitative",
          "scale": {"domain": [-130.2, 1442], "nice": false, "zero": false},
          "axis": {
            "orient": "right",
            "values": [-100, -50, 0, 50, 100, 150, 200, 250, 300, 350, 400, 450, 500, 550, 600, 650, 700, 750, 800, 850, 900, 950, 1000, 1050, 1100, 1150, 1200, 1250, 1300, 1350, 1400],
            "format": "d",
            "labelExpr": "datum.value % 100 === 0 ? datum.label : ''",
            "tickSize": {"condition": {"test": "datum.value % 100 === 0", "value": 5}, "value": 3},
            "grid": false,
            "offset": 5,
            "domainColor": "#444444",
            "tickColor": "#444444",
            "labelColor": "#111111",
            "labelFont": "DejaVu Sans",
            "labelFontSize": 11,
            "labelPadding": 4,
            "labelFlush": false,
            "labelOverlap": false,
            "title": null
          }
        }
      }
    },
    {
      "data": {"name": "heading"},
      "mark": {
        "type": "text",
        "align": "left",
        "baseline": "alphabetic",
        "font": "Liberation Serif",
        "fontSize": 28,
        "color": "#000000"
      },
      "encoding": {
        "x": {"datum": 222.8, "type": "quantitative"},
        "y": {"datum": 1411, "type": "quantitative"},
        "text": {"field": "caption"}
      }
    }
  ],
  "config": {"view": {"stroke": null}}
}
